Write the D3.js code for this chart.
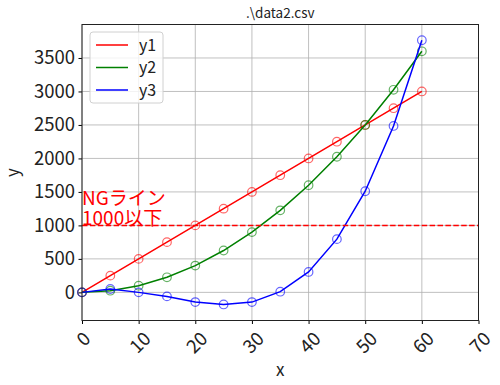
<!DOCTYPE html>
<html>
<head>
<meta charset="utf-8">
<script src="https://cdn.jsdelivr.net/npm/d3@7"></script>
<style>
  body { margin: 0; background: #fff; }
  svg text { font-family: "Noto Sans CJK JP", "Noto Sans", sans-serif; }
</style>
</head>
<body>
<script>
// data
var xVals = [0, 5, 10, 15, 20, 25, 30, 35, 40, 45, 50, 55, 60];
var y1 = [0, 250, 500, 750, 1000, 1250, 1500, 1750, 2000, 2250, 2500, 2750, 3000];
var y2 = [0, 25, 100, 225, 400, 625, 900, 1225, 1600, 2025, 2500, 3025, 3600];
var y3 = [0, 50, 0, -60, -145, -180, -145, 10, 305, 795, 1510, 2485, 3765];
var seriesNames = ["y1", "y2", "y3"];
var seriesColors = ["#ff0000", "#008000", "#0000ff"];
var xTicks = [0, 10, 20, 30, 40, 50, 60, 70];
var yTicks = [0, 500, 1000, 1500, 2000, 2500, 3000, 3500];
var ngValue = 1000;
var ngLabel = ["NGライン", "1000以下"];

window.onload = drawChart();

function drawChart(){
    var width = 500,
        height = 385;
    var margin = {top: 24.5, right: 21.5, bottom: 64.5, left: 82};

    var svg = d3.select("body").append("svg")
        .attr("width", width)
        .attr("height", height);

    var x = d3.scaleLinear()
        .domain([0, 70])
        .range([margin.left, width - margin.right]);

    var y = d3.scaleLinear()
        .domain([-420, 4000])
        .range([height - margin.bottom, margin.top]);

    // grid
    svg.append("g").selectAll("line.gx")
        .data(xTicks).enter().append("line")
        .attr("x1", function(d){ return x(d); })
        .attr("x2", function(d){ return x(d); })
        .attr("y1", margin.top).attr("y2", height - margin.bottom)
        .attr("stroke", "#b0b0b0").attr("stroke-width", 0.8);
    svg.append("g").selectAll("line.gy")
        .data(yTicks).enter().append("line")
        .attr("y1", function(d){ return y(d); })
        .attr("y2", function(d){ return y(d); })
        .attr("x1", margin.left).attr("x2", width - margin.right)
        .attr("stroke", "#b0b0b0").attr("stroke-width", 0.8);

    // series
    var allY = [y1, y2, y3];
    var line = d3.line()
        .x(function(d){ return x(d[0]); })
        .y(function(d){ return y(d[1]); });

    allY.forEach(function(vals, i){
        var pts = xVals.map(function(v, j){ return [v, vals[j]]; });
        svg.append("path")
            .datum(pts)
            .attr("fill", "none")
            .attr("stroke", seriesColors[i])
            .attr("stroke-width", 1.5)
            .attr("d", line);
        svg.append("g").selectAll("circle")
            .data(pts).enter().append("circle")
            .attr("cx", function(d){ return x(d[0]); })
            .attr("cy", function(d){ return y(d[1]); })
            .attr("r", 4.3)
            .attr("fill", "none")
            .attr("stroke", seriesColors[i])
            .attr("stroke-opacity", 0.6)
            .attr("stroke-width", 1.2);
    });

    // NG line
    svg.append("line")
        .attr("x1", margin.left).attr("x2", width - margin.right)
        .attr("y1", y(ngValue)).attr("y2", y(ngValue))
        .attr("stroke", "#ff0000")
        .attr("stroke-width", 1.5)
        .attr("stroke-dasharray", "5.5,2.4");

    svg.append("g").selectAll("text")
        .data(ngLabel).enter().append("text")
        .attr("x", margin.left)
        .attr("y", function(d, i){ return y(ngValue) - 20 + i * 20; })
        .attr("fill", "#ff0000")
        .attr("font-size", 19)
        .text(function(d){ return d; });

    // axes
    var xAxis = svg.append("g")
        .attr("transform", "translate(0," + (height - margin.bottom) + ")")
        .call(d3.axisBottom(x).tickValues(xTicks).tickSize(3.5).tickPadding(3.5));
    xAxis.selectAll("text")
        .attr("font-size", 18.5)
        .attr("fill", "#222")
        .attr("text-anchor", "middle")
        .attr("dy", null)
        .attr("y", 0)
        .attr("dominant-baseline", "central")
        .each(function(){
            // rotate around centre, keep rotated box top just under the tick
            var b = this.getBBox();
            var half = (b.width + b.height * 0.75) / (2 * Math.SQRT2);
            var cy = 7 + half;
            d3.select(this)
                .attr("y", cy)
                .attr("transform", "rotate(-45,0," + cy + ")");
        });

    var yAxis = svg.append("g")
        .attr("transform", "translate(" + margin.left + ",0)")
        .call(d3.axisLeft(y).tickValues(yTicks).tickFormat(d3.format("d")).tickSize(3.5).tickPadding(3.5));
    yAxis.selectAll("text")
        .attr("font-size", 18.5)
        .attr("fill", "#222");

    svg.selectAll(".domain").remove();

    // frame
    svg.append("rect")
        .attr("x", margin.left).attr("y", margin.top)
        .attr("width", width - margin.left - margin.right)
        .attr("height", height - margin.top - margin.bottom)
        .attr("fill", "none")
        .attr("stroke", "#222")
        .attr("stroke-width", 1);

    // title and labels
    svg.append("text")
        .attr("x", (margin.left + width - margin.right) / 2)
        .attr("y", 18)
        .attr("text-anchor", "middle")
        .attr("font-size", 13.5)
        .attr("fill", "#222")
        .text(".\\data2.csv");

    svg.append("text")
        .attr("x", (margin.left + width - margin.right) / 2)
        .attr("y", 376)
        .attr("text-anchor", "middle")
        .attr("font-size", 17)
        .attr("fill", "#222")
        .text("x");

    svg.append("text")
        .attr("transform", "translate(19," + ((margin.top + height - margin.bottom) / 2) + ") rotate(-90)")
        .attr("text-anchor", "middle")
        .attr("font-size", 17)
        .attr("fill", "#222")
        .text("y");

    // legend
    var legend = svg.append("g").attr("transform", "translate(90,32)");
    legend.append("rect")
        .attr("width", 73).attr("height", 71)
        .attr("rx", 3)
        .attr("fill", "#fff").attr("fill-opacity", 0.8)
        .attr("stroke", "#d0d0d0");
    seriesNames.forEach(function(name, i){
        var ly = 13 + i * 22.5;
        legend.append("line")
            .attr("x1", 6).attr("x2", 38)
            .attr("y1", ly).attr("y2", ly)
            .attr("stroke", seriesColors[i]).attr("stroke-width", 1.5);
        legend.append("text")
            .attr("x", 49).attr("y", ly)
            .attr("dy", "0.35em")
            .attr("font-size", 16)
            .attr("fill", "#222")
            .text(name);
    });
}
</script>
</body>
</html>
